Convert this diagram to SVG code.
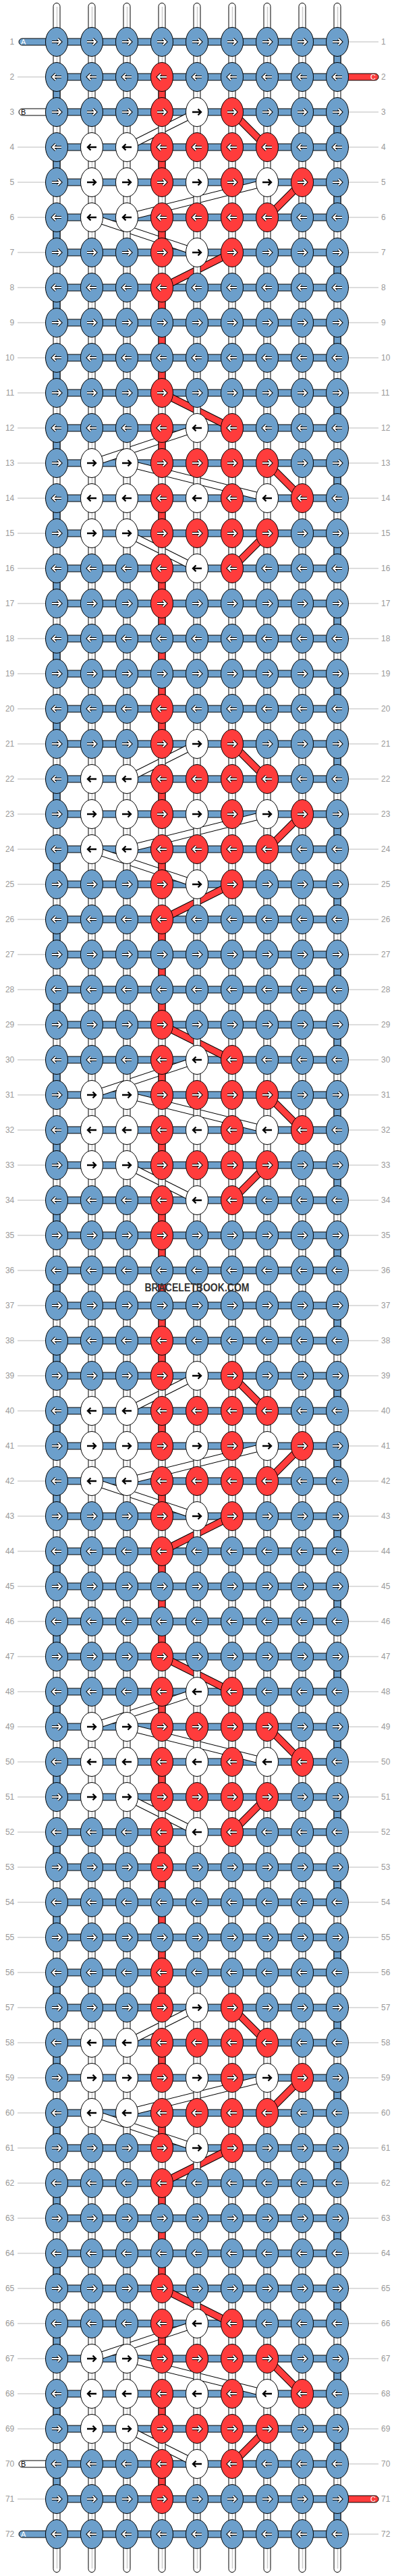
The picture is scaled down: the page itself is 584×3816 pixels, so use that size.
<svg xmlns="http://www.w3.org/2000/svg" xmlns:xlink="http://www.w3.org/1999/xlink" width="584" height="3816" viewBox="0 0 584 3816">
<style>
.b{fill:#6c9fcb}.r{fill:#ff3c3c}.w{fill:#fff}
ellipse,.o{stroke:#000;stroke-width:1}
.lbl{font-family:"Liberation Sans",Arial,sans-serif;font-size:12px;fill:#999}
.tl{font-family:"Liberation Sans",Arial,sans-serif;font-size:11px}
</style>
<defs>
<path id="ap" d="M-7,0H6M1.5,-4.5L6,0L1.5,4.5" fill="none"/>
<g id="aw"><use href="#ap" stroke="#000" stroke-width="4"/><use href="#ap" stroke="#fff" stroke-width="2"/></g>
<g id="ak"><use href="#ap" stroke="#000" stroke-width="2.4"/></g>
<g id="BR"><ellipse class="b" rx="16.5" ry="21.5"/><use href="#aw"/></g>
<g id="BL"><ellipse class="b" rx="16.5" ry="21.5"/><use href="#aw" transform="scale(-1,1)"/></g>
<g id="RR"><ellipse class="r" rx="16.5" ry="21.5"/><use href="#aw"/></g>
<g id="RL"><ellipse class="r" rx="16.5" ry="21.5"/><use href="#aw" transform="scale(-1,1)"/></g>
<g id="WR"><ellipse class="w" rx="16.5" ry="21.5"/><use href="#ak"/></g>
<g id="WL"><ellipse class="w" rx="16.5" ry="21.5"/><use href="#ak" transform="scale(-1,1)"/></g>
<path id="wbp" d="M292,166L188,218M396,270L188,322M136,322L292,374M292,634L136,686M188,686L396,738M188,790L292,842" fill="none"/>
<path id="rbp" d="M344,166L396,218M448,270L396,322M344,374L240,426M240,582L344,634M396,686L448,738M396,790L344,842" fill="none"/>
<path id="hb" fill="none" d="M84,62H500M84,114H500M84,166H500M84,218H500M84,270H500M84,322H500M84,374H500M84,426H500M84,478H500M84,530H500M84,582H500M84,634H500M84,686H500M84,738H500M84,790H500M84,842H500M84,894H500M84,946H500M84,998H500M84,1050H500M84,1102H500M84,1154H500M84,1206H500M84,1258H500M84,1310H500M84,1362H500M84,1414H500M84,1466H500M84,1518H500M84,1570H500M84,1622H500M84,1674H500M84,1726H500M84,1778H500M84,1830H500M84,1882H500M84,1934H500M84,1986H500M84,2038H500M84,2090H500M84,2142H500M84,2194H500M84,2246H500M84,2298H500M84,2350H500M84,2402H500M84,2454H500M84,2506H500M84,2558H500M84,2610H500M84,2662H500M84,2714H500M84,2766H500M84,2818H500M84,2870H500M84,2922H500M84,2974H500M84,3026H500M84,3078H500M84,3130H500M84,3182H500M84,3234H500M84,3286H500M84,3338H500M84,3390H500M84,3442H500M84,3494H500M84,3546H500M84,3598H500M84,3650H500M84,3702H500M84,3754H500"/>
<path id="rv" fill="none" d="M240,129V151M240,233V255M240,337V359M240,441V567M240,649V671M240,753V775M240,857V1087M240,1169V1191M240,1273V1295M240,1377V1503M240,1585V1607M240,1689V1711M240,1793V2023M240,2105V2127M240,2209V2231M240,2313V2439M240,2521V2543M240,2625V2647M240,2729V2959M240,3041V3063M240,3145V3167M240,3249V3375M240,3457V3479M240,3561V3583M240,3665V3687"/>
</defs>

<g id="labels">
<path stroke="#bbb" stroke-width="1" fill="none" d="M26,114H70M26,218H70M26,270H70M26,322H70M26,374H70M26,426H70M26,478H70M26,530H70M26,582H70M26,634H70M26,686H70M26,738H70M26,790H70M26,842H70M26,894H70M26,946H70M26,998H70M26,1050H70M26,1102H70M26,1154H70M26,1206H70M26,1258H70M26,1310H70M26,1362H70M26,1414H70M26,1466H70M26,1518H70M26,1570H70M26,1622H70M26,1674H70M26,1726H70M26,1778H70M26,1830H70M26,1882H70M26,1934H70M26,1986H70M26,2038H70M26,2090H70M26,2142H70M26,2194H70M26,2246H70M26,2298H70M26,2350H70M26,2402H70M26,2454H70M26,2506H70M26,2558H70M26,2610H70M26,2662H70M26,2714H70M26,2766H70M26,2818H70M26,2870H70M26,2922H70M26,2974H70M26,3026H70M26,3078H70M26,3130H70M26,3182H70M26,3234H70M26,3286H70M26,3338H70M26,3390H70M26,3442H70M26,3494H70M26,3546H70M26,3598H70M26,3702H70"/>
<path stroke="#bbb" stroke-width="1" fill="none" d="M514,62H561M514,166H561M514,218H561M514,270H561M514,322H561M514,374H561M514,426H561M514,478H561M514,530H561M514,582H561M514,634H561M514,686H561M514,738H561M514,790H561M514,842H561M514,894H561M514,946H561M514,998H561M514,1050H561M514,1102H561M514,1154H561M514,1206H561M514,1258H561M514,1310H561M514,1362H561M514,1414H561M514,1466H561M514,1518H561M514,1570H561M514,1622H561M514,1674H561M514,1726H561M514,1778H561M514,1830H561M514,1882H561M514,1934H561M514,1986H561M514,2038H561M514,2090H561M514,2142H561M514,2194H561M514,2246H561M514,2298H561M514,2350H561M514,2402H561M514,2454H561M514,2506H561M514,2558H561M514,2610H561M514,2662H561M514,2714H561M514,2766H561M514,2818H561M514,2870H561M514,2922H561M514,2974H561M514,3026H561M514,3078H561M514,3130H561M514,3182H561M514,3234H561M514,3286H561M514,3338H561M514,3390H561M514,3442H561M514,3494H561M514,3546H561M514,3598H561M514,3650H561M514,3754H561"/>
<g class="lbl" text-anchor="end">
<text x="21.3" y="66">1</text><text x="21.3" y="118">2</text><text x="21.3" y="170">3</text><text x="21.3" y="222">4</text><text x="21.3" y="274">5</text><text x="21.3" y="326">6</text><text x="21.3" y="378">7</text><text x="21.3" y="430">8</text><text x="21.3" y="482">9</text><text x="21.3" y="534">10</text><text x="21.3" y="586">11</text><text x="21.3" y="638">12</text><text x="21.3" y="690">13</text><text x="21.3" y="742">14</text><text x="21.3" y="794">15</text><text x="21.3" y="846">16</text><text x="21.3" y="898">17</text><text x="21.3" y="950">18</text><text x="21.3" y="1002">19</text><text x="21.3" y="1054">20</text><text x="21.3" y="1106">21</text><text x="21.3" y="1158">22</text><text x="21.3" y="1210">23</text><text x="21.3" y="1262">24</text><text x="21.3" y="1314">25</text><text x="21.3" y="1366">26</text><text x="21.3" y="1418">27</text><text x="21.3" y="1470">28</text><text x="21.3" y="1522">29</text><text x="21.3" y="1574">30</text><text x="21.3" y="1626">31</text><text x="21.3" y="1678">32</text><text x="21.3" y="1730">33</text><text x="21.3" y="1782">34</text><text x="21.3" y="1834">35</text><text x="21.3" y="1886">36</text><text x="21.3" y="1938">37</text><text x="21.3" y="1990">38</text><text x="21.3" y="2042">39</text><text x="21.3" y="2094">40</text><text x="21.3" y="2146">41</text><text x="21.3" y="2198">42</text><text x="21.3" y="2250">43</text><text x="21.3" y="2302">44</text><text x="21.3" y="2354">45</text><text x="21.3" y="2406">46</text><text x="21.3" y="2458">47</text><text x="21.3" y="2510">48</text><text x="21.3" y="2562">49</text><text x="21.3" y="2614">50</text><text x="21.3" y="2666">51</text><text x="21.3" y="2718">52</text><text x="21.3" y="2770">53</text><text x="21.3" y="2822">54</text><text x="21.3" y="2874">55</text><text x="21.3" y="2926">56</text><text x="21.3" y="2978">57</text><text x="21.3" y="3030">58</text><text x="21.3" y="3082">59</text><text x="21.3" y="3134">60</text><text x="21.3" y="3186">61</text><text x="21.3" y="3238">62</text><text x="21.3" y="3290">63</text><text x="21.3" y="3342">64</text><text x="21.3" y="3394">65</text><text x="21.3" y="3446">66</text><text x="21.3" y="3498">67</text><text x="21.3" y="3550">68</text><text x="21.3" y="3602">69</text><text x="21.3" y="3654">70</text><text x="21.3" y="3706">71</text><text x="21.3" y="3758">72</text>
</g>
<g class="lbl" text-anchor="start">
<text x="565" y="66">1</text><text x="565" y="118">2</text><text x="565" y="170">3</text><text x="565" y="222">4</text><text x="565" y="274">5</text><text x="565" y="326">6</text><text x="565" y="378">7</text><text x="565" y="430">8</text><text x="565" y="482">9</text><text x="565" y="534">10</text><text x="565" y="586">11</text><text x="565" y="638">12</text><text x="565" y="690">13</text><text x="565" y="742">14</text><text x="565" y="794">15</text><text x="565" y="846">16</text><text x="565" y="898">17</text><text x="565" y="950">18</text><text x="565" y="1002">19</text><text x="565" y="1054">20</text><text x="565" y="1106">21</text><text x="565" y="1158">22</text><text x="565" y="1210">23</text><text x="565" y="1262">24</text><text x="565" y="1314">25</text><text x="565" y="1366">26</text><text x="565" y="1418">27</text><text x="565" y="1470">28</text><text x="565" y="1522">29</text><text x="565" y="1574">30</text><text x="565" y="1626">31</text><text x="565" y="1678">32</text><text x="565" y="1730">33</text><text x="565" y="1782">34</text><text x="565" y="1834">35</text><text x="565" y="1886">36</text><text x="565" y="1938">37</text><text x="565" y="1990">38</text><text x="565" y="2042">39</text><text x="565" y="2094">40</text><text x="565" y="2146">41</text><text x="565" y="2198">42</text><text x="565" y="2250">43</text><text x="565" y="2302">44</text><text x="565" y="2354">45</text><text x="565" y="2406">46</text><text x="565" y="2458">47</text><text x="565" y="2510">48</text><text x="565" y="2562">49</text><text x="565" y="2614">50</text><text x="565" y="2666">51</text><text x="565" y="2718">52</text><text x="565" y="2770">53</text><text x="565" y="2822">54</text><text x="565" y="2874">55</text><text x="565" y="2926">56</text><text x="565" y="2978">57</text><text x="565" y="3030">58</text><text x="565" y="3082">59</text><text x="565" y="3134">60</text><text x="565" y="3186">61</text><text x="565" y="3238">62</text><text x="565" y="3290">63</text><text x="565" y="3342">64</text><text x="565" y="3394">65</text><text x="565" y="3446">66</text><text x="565" y="3498">67</text><text x="565" y="3550">68</text><text x="565" y="3602">69</text><text x="565" y="3654">70</text><text x="565" y="3706">71</text><text x="565" y="3758">72</text>
</g>
</g>

<g id="connectors">
<use href="#hb" stroke="#000" stroke-width="11"/>
<use href="#hb" stroke="#6c9fcb" stroke-width="9"/>
<g id="bands-white">
<use href="#wbp" stroke="#000" stroke-width="11"/><use href="#wbp" stroke="#fff" stroke-width="9"/>
<use href="#wbp" y="936" stroke="#000" stroke-width="11"/><use href="#wbp" y="936" stroke="#fff" stroke-width="9"/>
<use href="#wbp" y="1872" stroke="#000" stroke-width="11"/><use href="#wbp" y="1872" stroke="#fff" stroke-width="9"/>
<use href="#wbp" y="2808" stroke="#000" stroke-width="11"/><use href="#wbp" y="2808" stroke="#fff" stroke-width="9"/>
</g>
<g id="bands-red">
<use href="#rbp" stroke="#000" stroke-width="11"/><use href="#rbp" stroke="#ff3c3c" stroke-width="9"/>
<use href="#rbp" y="936" stroke="#000" stroke-width="11"/><use href="#rbp" y="936" stroke="#ff3c3c" stroke-width="9"/>
<use href="#rbp" y="1872" stroke="#000" stroke-width="11"/><use href="#rbp" y="1872" stroke="#ff3c3c" stroke-width="9"/>
<use href="#rbp" y="2808" stroke="#000" stroke-width="11"/><use href="#rbp" y="2808" stroke="#ff3c3c" stroke-width="9"/>
</g>
<g id="strings" class="w">
<rect class="o" x="79" y="4.5" width="10" height="3806" rx="5"/>
<rect class="o" x="131" y="4.5" width="10" height="3806" rx="5"/>
<rect class="o" x="183" y="4.5" width="10" height="3806" rx="5"/>
<rect class="o" x="235" y="4.5" width="10" height="3806" rx="5"/>
<rect class="o" x="287" y="4.5" width="10" height="3806" rx="5"/>
<rect class="o" x="339" y="4.5" width="10" height="3806" rx="5"/>
<rect class="o" x="391" y="4.5" width="10" height="3806" rx="5"/>
<rect class="o" x="443" y="4.5" width="10" height="3806" rx="5"/>
<rect class="o" x="495" y="4.5" width="10" height="3806" rx="5"/>
<path stroke="#ccc" stroke-width="1.5" fill="none" d="M84.5,10V3805M136.5,10V3805M188.5,10V3805M240.5,10V3805M292.5,10V3805M344.5,10V3805M396.5,10V3805M448.5,10V3805M500.5,10V3805"/>
</g>
<g id="turns">
<line x1="84" y1="129" x2="84" y2="3687" stroke="#000" stroke-width="11" stroke-dasharray="22 82"/>
<line x1="84" y1="129" x2="84" y2="3687" stroke="#6c9fcb" stroke-width="9" stroke-dasharray="22 82"/>
<line x1="500" y1="77" x2="500" y2="3739" stroke="#000" stroke-width="11" stroke-dasharray="22 82"/>
<line x1="500" y1="77" x2="500" y2="3739" stroke="#6c9fcb" stroke-width="9" stroke-dasharray="22 82"/>
<use href="#rv" stroke="#000" stroke-width="11"/>
<use href="#rv" stroke="#ff3c3c" stroke-width="9"/>
</g>
<g id="tails">
<rect class="b o" x="28" y="57" width="60" height="10" rx="5"/>
<rect class="w o" x="28" y="161" width="60" height="10" rx="5"/>
<rect class="w o" x="28" y="3645" width="60" height="10" rx="5"/>
<rect class="b o" x="28" y="3749" width="60" height="10" rx="5"/>
<rect class="r o" x="496" y="109" width="65" height="10" rx="5"/>
<rect class="r o" x="496" y="3697" width="65" height="10" rx="5"/>
<text class="tl" x="31" y="66" fill="#fff">A</text>
<text class="tl" x="31" y="170" fill="#000">B</text>
<text class="tl" x="31" y="3654" fill="#000">B</text>
<text class="tl" x="31" y="3758" fill="#fff">A</text>
<text class="tl" x="557" y="118" fill="#fff" text-anchor="end">C</text>
<text class="tl" x="557" y="3706" fill="#fff" text-anchor="end">C</text>
</g>
</g>

<g id="nodes">
<g transform="translate(0,62)"><g id="n1-1"><use href="#BR" x="84"/></g><g id="n1-2"><use href="#BR" x="136"/></g><g id="n1-3"><use href="#BR" x="188"/></g><g id="n1-4"><use href="#BR" x="240"/></g><g id="n1-5"><use href="#BR" x="292"/></g><g id="n1-6"><use href="#BR" x="344"/></g><g id="n1-7"><use href="#BR" x="396"/></g><g id="n1-8"><use href="#BR" x="448"/></g><g id="n1-9"><use href="#BR" x="500"/></g></g>
<g transform="translate(0,114)"><g id="n2-1"><use href="#BL" x="84"/></g><g id="n2-2"><use href="#BL" x="136"/></g><g id="n2-3"><use href="#BL" x="188"/></g><g id="n2-4"><use href="#RL" x="240"/></g><g id="n2-5"><use href="#BL" x="292"/></g><g id="n2-6"><use href="#BL" x="344"/></g><g id="n2-7"><use href="#BL" x="396"/></g><g id="n2-8"><use href="#BL" x="448"/></g><g id="n2-9"><use href="#BL" x="500"/></g></g>
<g transform="translate(0,166)"><g id="n3-1"><use href="#BR" x="84"/></g><g id="n3-2"><use href="#BR" x="136"/></g><g id="n3-3"><use href="#BR" x="188"/></g><g id="n3-4"><use href="#RR" x="240"/></g><g id="n3-5"><use href="#WR" x="292"/></g><g id="n3-6"><use href="#RR" x="344"/></g><g id="n3-7"><use href="#BR" x="396"/></g><g id="n3-8"><use href="#BR" x="448"/></g><g id="n3-9"><use href="#BR" x="500"/></g></g>
<g transform="translate(0,218)"><g id="n4-1"><use href="#BL" x="84"/></g><g id="n4-2"><use href="#WL" x="136"/></g><g id="n4-3"><use href="#WL" x="188"/></g><g id="n4-4"><use href="#RL" x="240"/></g><g id="n4-5"><use href="#RL" x="292"/></g><g id="n4-6"><use href="#RL" x="344"/></g><g id="n4-7"><use href="#RL" x="396"/></g><g id="n4-8"><use href="#BL" x="448"/></g><g id="n4-9"><use href="#BL" x="500"/></g></g>
<g transform="translate(0,270)"><g id="n5-1"><use href="#BR" x="84"/></g><g id="n5-2"><use href="#WR" x="136"/></g><g id="n5-3"><use href="#WR" x="188"/></g><g id="n5-4"><use href="#RR" x="240"/></g><g id="n5-5"><use href="#WR" x="292"/></g><g id="n5-6"><use href="#RR" x="344"/></g><g id="n5-7"><use href="#WR" x="396"/></g><g id="n5-8"><use href="#RR" x="448"/></g><g id="n5-9"><use href="#BR" x="500"/></g></g>
<g transform="translate(0,322)"><g id="n6-1"><use href="#BL" x="84"/></g><g id="n6-2"><use href="#WL" x="136"/></g><g id="n6-3"><use href="#WL" x="188"/></g><g id="n6-4"><use href="#RL" x="240"/></g><g id="n6-5"><use href="#RL" x="292"/></g><g id="n6-6"><use href="#RL" x="344"/></g><g id="n6-7"><use href="#RL" x="396"/></g><g id="n6-8"><use href="#BL" x="448"/></g><g id="n6-9"><use href="#BL" x="500"/></g></g>
<g transform="translate(0,374)"><g id="n7-1"><use href="#BR" x="84"/></g><g id="n7-2"><use href="#BR" x="136"/></g><g id="n7-3"><use href="#BR" x="188"/></g><g id="n7-4"><use href="#RR" x="240"/></g><g id="n7-5"><use href="#WR" x="292"/></g><g id="n7-6"><use href="#RR" x="344"/></g><g id="n7-7"><use href="#BR" x="396"/></g><g id="n7-8"><use href="#BR" x="448"/></g><g id="n7-9"><use href="#BR" x="500"/></g></g>
<g transform="translate(0,426)"><g id="n8-1"><use href="#BL" x="84"/></g><g id="n8-2"><use href="#BL" x="136"/></g><g id="n8-3"><use href="#BL" x="188"/></g><g id="n8-4"><use href="#RL" x="240"/></g><g id="n8-5"><use href="#BL" x="292"/></g><g id="n8-6"><use href="#BL" x="344"/></g><g id="n8-7"><use href="#BL" x="396"/></g><g id="n8-8"><use href="#BL" x="448"/></g><g id="n8-9"><use href="#BL" x="500"/></g></g>
<g transform="translate(0,478)"><g id="n9-1"><use href="#BR" x="84"/></g><g id="n9-2"><use href="#BR" x="136"/></g><g id="n9-3"><use href="#BR" x="188"/></g><g id="n9-4"><use href="#BR" x="240"/></g><g id="n9-5"><use href="#BR" x="292"/></g><g id="n9-6"><use href="#BR" x="344"/></g><g id="n9-7"><use href="#BR" x="396"/></g><g id="n9-8"><use href="#BR" x="448"/></g><g id="n9-9"><use href="#BR" x="500"/></g></g>
<g transform="translate(0,530)"><g id="n10-1"><use href="#BL" x="84"/></g><g id="n10-2"><use href="#BL" x="136"/></g><g id="n10-3"><use href="#BL" x="188"/></g><g id="n10-4"><use href="#BL" x="240"/></g><g id="n10-5"><use href="#BL" x="292"/></g><g id="n10-6"><use href="#BL" x="344"/></g><g id="n10-7"><use href="#BL" x="396"/></g><g id="n10-8"><use href="#BL" x="448"/></g><g id="n10-9"><use href="#BL" x="500"/></g></g>
<g transform="translate(0,582)"><g id="n11-1"><use href="#BR" x="84"/></g><g id="n11-2"><use href="#BR" x="136"/></g><g id="n11-3"><use href="#BR" x="188"/></g><g id="n11-4"><use href="#RR" x="240"/></g><g id="n11-5"><use href="#BR" x="292"/></g><g id="n11-6"><use href="#BR" x="344"/></g><g id="n11-7"><use href="#BR" x="396"/></g><g id="n11-8"><use href="#BR" x="448"/></g><g id="n11-9"><use href="#BR" x="500"/></g></g>
<g transform="translate(0,634)"><g id="n12-1"><use href="#BL" x="84"/></g><g id="n12-2"><use href="#BL" x="136"/></g><g id="n12-3"><use href="#BL" x="188"/></g><g id="n12-4"><use href="#RL" x="240"/></g><g id="n12-5"><use href="#WL" x="292"/></g><g id="n12-6"><use href="#RL" x="344"/></g><g id="n12-7"><use href="#BL" x="396"/></g><g id="n12-8"><use href="#BL" x="448"/></g><g id="n12-9"><use href="#BL" x="500"/></g></g>
<g transform="translate(0,686)"><g id="n13-1"><use href="#BR" x="84"/></g><g id="n13-2"><use href="#WR" x="136"/></g><g id="n13-3"><use href="#WR" x="188"/></g><g id="n13-4"><use href="#RR" x="240"/></g><g id="n13-5"><use href="#RR" x="292"/></g><g id="n13-6"><use href="#RR" x="344"/></g><g id="n13-7"><use href="#RR" x="396"/></g><g id="n13-8"><use href="#BR" x="448"/></g><g id="n13-9"><use href="#BR" x="500"/></g></g>
<g transform="translate(0,738)"><g id="n14-1"><use href="#BL" x="84"/></g><g id="n14-2"><use href="#WL" x="136"/></g><g id="n14-3"><use href="#WL" x="188"/></g><g id="n14-4"><use href="#RL" x="240"/></g><g id="n14-5"><use href="#WL" x="292"/></g><g id="n14-6"><use href="#RL" x="344"/></g><g id="n14-7"><use href="#WL" x="396"/></g><g id="n14-8"><use href="#RL" x="448"/></g><g id="n14-9"><use href="#BL" x="500"/></g></g>
<g transform="translate(0,790)"><g id="n15-1"><use href="#BR" x="84"/></g><g id="n15-2"><use href="#WR" x="136"/></g><g id="n15-3"><use href="#WR" x="188"/></g><g id="n15-4"><use href="#RR" x="240"/></g><g id="n15-5"><use href="#RR" x="292"/></g><g id="n15-6"><use href="#RR" x="344"/></g><g id="n15-7"><use href="#RR" x="396"/></g><g id="n15-8"><use href="#BR" x="448"/></g><g id="n15-9"><use href="#BR" x="500"/></g></g>
<g transform="translate(0,842)"><g id="n16-1"><use href="#BL" x="84"/></g><g id="n16-2"><use href="#BL" x="136"/></g><g id="n16-3"><use href="#BL" x="188"/></g><g id="n16-4"><use href="#RL" x="240"/></g><g id="n16-5"><use href="#WL" x="292"/></g><g id="n16-6"><use href="#RL" x="344"/></g><g id="n16-7"><use href="#BL" x="396"/></g><g id="n16-8"><use href="#BL" x="448"/></g><g id="n16-9"><use href="#BL" x="500"/></g></g>
<g transform="translate(0,894)"><g id="n17-1"><use href="#BR" x="84"/></g><g id="n17-2"><use href="#BR" x="136"/></g><g id="n17-3"><use href="#BR" x="188"/></g><g id="n17-4"><use href="#RR" x="240"/></g><g id="n17-5"><use href="#BR" x="292"/></g><g id="n17-6"><use href="#BR" x="344"/></g><g id="n17-7"><use href="#BR" x="396"/></g><g id="n17-8"><use href="#BR" x="448"/></g><g id="n17-9"><use href="#BR" x="500"/></g></g>
<g transform="translate(0,946)"><g id="n18-1"><use href="#BL" x="84"/></g><g id="n18-2"><use href="#BL" x="136"/></g><g id="n18-3"><use href="#BL" x="188"/></g><g id="n18-4"><use href="#BL" x="240"/></g><g id="n18-5"><use href="#BL" x="292"/></g><g id="n18-6"><use href="#BL" x="344"/></g><g id="n18-7"><use href="#BL" x="396"/></g><g id="n18-8"><use href="#BL" x="448"/></g><g id="n18-9"><use href="#BL" x="500"/></g></g>

<g transform="translate(0,998)"><g id="n19-1"><use href="#BR" x="84"/></g><g id="n19-2"><use href="#BR" x="136"/></g><g id="n19-3"><use href="#BR" x="188"/></g><g id="n19-4"><use href="#BR" x="240"/></g><g id="n19-5"><use href="#BR" x="292"/></g><g id="n19-6"><use href="#BR" x="344"/></g><g id="n19-7"><use href="#BR" x="396"/></g><g id="n19-8"><use href="#BR" x="448"/></g><g id="n19-9"><use href="#BR" x="500"/></g></g>
<g transform="translate(0,1050)"><g id="n20-1"><use href="#BL" x="84"/></g><g id="n20-2"><use href="#BL" x="136"/></g><g id="n20-3"><use href="#BL" x="188"/></g><g id="n20-4"><use href="#RL" x="240"/></g><g id="n20-5"><use href="#BL" x="292"/></g><g id="n20-6"><use href="#BL" x="344"/></g><g id="n20-7"><use href="#BL" x="396"/></g><g id="n20-8"><use href="#BL" x="448"/></g><g id="n20-9"><use href="#BL" x="500"/></g></g>
<g transform="translate(0,1102)"><g id="n21-1"><use href="#BR" x="84"/></g><g id="n21-2"><use href="#BR" x="136"/></g><g id="n21-3"><use href="#BR" x="188"/></g><g id="n21-4"><use href="#RR" x="240"/></g><g id="n21-5"><use href="#WR" x="292"/></g><g id="n21-6"><use href="#RR" x="344"/></g><g id="n21-7"><use href="#BR" x="396"/></g><g id="n21-8"><use href="#BR" x="448"/></g><g id="n21-9"><use href="#BR" x="500"/></g></g>
<g transform="translate(0,1154)"><g id="n22-1"><use href="#BL" x="84"/></g><g id="n22-2"><use href="#WL" x="136"/></g><g id="n22-3"><use href="#WL" x="188"/></g><g id="n22-4"><use href="#RL" x="240"/></g><g id="n22-5"><use href="#RL" x="292"/></g><g id="n22-6"><use href="#RL" x="344"/></g><g id="n22-7"><use href="#RL" x="396"/></g><g id="n22-8"><use href="#BL" x="448"/></g><g id="n22-9"><use href="#BL" x="500"/></g></g>
<g transform="translate(0,1206)"><g id="n23-1"><use href="#BR" x="84"/></g><g id="n23-2"><use href="#WR" x="136"/></g><g id="n23-3"><use href="#WR" x="188"/></g><g id="n23-4"><use href="#RR" x="240"/></g><g id="n23-5"><use href="#WR" x="292"/></g><g id="n23-6"><use href="#RR" x="344"/></g><g id="n23-7"><use href="#WR" x="396"/></g><g id="n23-8"><use href="#RR" x="448"/></g><g id="n23-9"><use href="#BR" x="500"/></g></g>
<g transform="translate(0,1258)"><g id="n24-1"><use href="#BL" x="84"/></g><g id="n24-2"><use href="#WL" x="136"/></g><g id="n24-3"><use href="#WL" x="188"/></g><g id="n24-4"><use href="#RL" x="240"/></g><g id="n24-5"><use href="#RL" x="292"/></g><g id="n24-6"><use href="#RL" x="344"/></g><g id="n24-7"><use href="#RL" x="396"/></g><g id="n24-8"><use href="#BL" x="448"/></g><g id="n24-9"><use href="#BL" x="500"/></g></g>
<g transform="translate(0,1310)"><g id="n25-1"><use href="#BR" x="84"/></g><g id="n25-2"><use href="#BR" x="136"/></g><g id="n25-3"><use href="#BR" x="188"/></g><g id="n25-4"><use href="#RR" x="240"/></g><g id="n25-5"><use href="#WR" x="292"/></g><g id="n25-6"><use href="#RR" x="344"/></g><g id="n25-7"><use href="#BR" x="396"/></g><g id="n25-8"><use href="#BR" x="448"/></g><g id="n25-9"><use href="#BR" x="500"/></g></g>
<g transform="translate(0,1362)"><g id="n26-1"><use href="#BL" x="84"/></g><g id="n26-2"><use href="#BL" x="136"/></g><g id="n26-3"><use href="#BL" x="188"/></g><g id="n26-4"><use href="#RL" x="240"/></g><g id="n26-5"><use href="#BL" x="292"/></g><g id="n26-6"><use href="#BL" x="344"/></g><g id="n26-7"><use href="#BL" x="396"/></g><g id="n26-8"><use href="#BL" x="448"/></g><g id="n26-9"><use href="#BL" x="500"/></g></g>
<g transform="translate(0,1414)"><g id="n27-1"><use href="#BR" x="84"/></g><g id="n27-2"><use href="#BR" x="136"/></g><g id="n27-3"><use href="#BR" x="188"/></g><g id="n27-4"><use href="#BR" x="240"/></g><g id="n27-5"><use href="#BR" x="292"/></g><g id="n27-6"><use href="#BR" x="344"/></g><g id="n27-7"><use href="#BR" x="396"/></g><g id="n27-8"><use href="#BR" x="448"/></g><g id="n27-9"><use href="#BR" x="500"/></g></g>
<g transform="translate(0,1466)"><g id="n28-1"><use href="#BL" x="84"/></g><g id="n28-2"><use href="#BL" x="136"/></g><g id="n28-3"><use href="#BL" x="188"/></g><g id="n28-4"><use href="#BL" x="240"/></g><g id="n28-5"><use href="#BL" x="292"/></g><g id="n28-6"><use href="#BL" x="344"/></g><g id="n28-7"><use href="#BL" x="396"/></g><g id="n28-8"><use href="#BL" x="448"/></g><g id="n28-9"><use href="#BL" x="500"/></g></g>
<g transform="translate(0,1518)"><g id="n29-1"><use href="#BR" x="84"/></g><g id="n29-2"><use href="#BR" x="136"/></g><g id="n29-3"><use href="#BR" x="188"/></g><g id="n29-4"><use href="#RR" x="240"/></g><g id="n29-5"><use href="#BR" x="292"/></g><g id="n29-6"><use href="#BR" x="344"/></g><g id="n29-7"><use href="#BR" x="396"/></g><g id="n29-8"><use href="#BR" x="448"/></g><g id="n29-9"><use href="#BR" x="500"/></g></g>
<g transform="translate(0,1570)"><g id="n30-1"><use href="#BL" x="84"/></g><g id="n30-2"><use href="#BL" x="136"/></g><g id="n30-3"><use href="#BL" x="188"/></g><g id="n30-4"><use href="#RL" x="240"/></g><g id="n30-5"><use href="#WL" x="292"/></g><g id="n30-6"><use href="#RL" x="344"/></g><g id="n30-7"><use href="#BL" x="396"/></g><g id="n30-8"><use href="#BL" x="448"/></g><g id="n30-9"><use href="#BL" x="500"/></g></g>
<g transform="translate(0,1622)"><g id="n31-1"><use href="#BR" x="84"/></g><g id="n31-2"><use href="#WR" x="136"/></g><g id="n31-3"><use href="#WR" x="188"/></g><g id="n31-4"><use href="#RR" x="240"/></g><g id="n31-5"><use href="#RR" x="292"/></g><g id="n31-6"><use href="#RR" x="344"/></g><g id="n31-7"><use href="#RR" x="396"/></g><g id="n31-8"><use href="#BR" x="448"/></g><g id="n31-9"><use href="#BR" x="500"/></g></g>
<g transform="translate(0,1674)"><g id="n32-1"><use href="#BL" x="84"/></g><g id="n32-2"><use href="#WL" x="136"/></g><g id="n32-3"><use href="#WL" x="188"/></g><g id="n32-4"><use href="#RL" x="240"/></g><g id="n32-5"><use href="#WL" x="292"/></g><g id="n32-6"><use href="#RL" x="344"/></g><g id="n32-7"><use href="#WL" x="396"/></g><g id="n32-8"><use href="#RL" x="448"/></g><g id="n32-9"><use href="#BL" x="500"/></g></g>
<g transform="translate(0,1726)"><g id="n33-1"><use href="#BR" x="84"/></g><g id="n33-2"><use href="#WR" x="136"/></g><g id="n33-3"><use href="#WR" x="188"/></g><g id="n33-4"><use href="#RR" x="240"/></g><g id="n33-5"><use href="#RR" x="292"/></g><g id="n33-6"><use href="#RR" x="344"/></g><g id="n33-7"><use href="#RR" x="396"/></g><g id="n33-8"><use href="#BR" x="448"/></g><g id="n33-9"><use href="#BR" x="500"/></g></g>
<g transform="translate(0,1778)"><g id="n34-1"><use href="#BL" x="84"/></g><g id="n34-2"><use href="#BL" x="136"/></g><g id="n34-3"><use href="#BL" x="188"/></g><g id="n34-4"><use href="#RL" x="240"/></g><g id="n34-5"><use href="#WL" x="292"/></g><g id="n34-6"><use href="#RL" x="344"/></g><g id="n34-7"><use href="#BL" x="396"/></g><g id="n34-8"><use href="#BL" x="448"/></g><g id="n34-9"><use href="#BL" x="500"/></g></g>
<g transform="translate(0,1830)"><g id="n35-1"><use href="#BR" x="84"/></g><g id="n35-2"><use href="#BR" x="136"/></g><g id="n35-3"><use href="#BR" x="188"/></g><g id="n35-4"><use href="#RR" x="240"/></g><g id="n35-5"><use href="#BR" x="292"/></g><g id="n35-6"><use href="#BR" x="344"/></g><g id="n35-7"><use href="#BR" x="396"/></g><g id="n35-8"><use href="#BR" x="448"/></g><g id="n35-9"><use href="#BR" x="500"/></g></g>
<g transform="translate(0,1882)"><g id="n36-1"><use href="#BL" x="84"/></g><g id="n36-2"><use href="#BL" x="136"/></g><g id="n36-3"><use href="#BL" x="188"/></g><g id="n36-4"><use href="#BL" x="240"/></g><g id="n36-5"><use href="#BL" x="292"/></g><g id="n36-6"><use href="#BL" x="344"/></g><g id="n36-7"><use href="#BL" x="396"/></g><g id="n36-8"><use href="#BL" x="448"/></g><g id="n36-9"><use href="#BL" x="500"/></g></g>

<g transform="translate(0,1934)"><g id="n37-1"><use href="#BR" x="84"/></g><g id="n37-2"><use href="#BR" x="136"/></g><g id="n37-3"><use href="#BR" x="188"/></g><g id="n37-4"><use href="#BR" x="240"/></g><g id="n37-5"><use href="#BR" x="292"/></g><g id="n37-6"><use href="#BR" x="344"/></g><g id="n37-7"><use href="#BR" x="396"/></g><g id="n37-8"><use href="#BR" x="448"/></g><g id="n37-9"><use href="#BR" x="500"/></g></g>
<g transform="translate(0,1986)"><g id="n38-1"><use href="#BL" x="84"/></g><g id="n38-2"><use href="#BL" x="136"/></g><g id="n38-3"><use href="#BL" x="188"/></g><g id="n38-4"><use href="#RL" x="240"/></g><g id="n38-5"><use href="#BL" x="292"/></g><g id="n38-6"><use href="#BL" x="344"/></g><g id="n38-7"><use href="#BL" x="396"/></g><g id="n38-8"><use href="#BL" x="448"/></g><g id="n38-9"><use href="#BL" x="500"/></g></g>
<g transform="translate(0,2038)"><g id="n39-1"><use href="#BR" x="84"/></g><g id="n39-2"><use href="#BR" x="136"/></g><g id="n39-3"><use href="#BR" x="188"/></g><g id="n39-4"><use href="#RR" x="240"/></g><g id="n39-5"><use href="#WR" x="292"/></g><g id="n39-6"><use href="#RR" x="344"/></g><g id="n39-7"><use href="#BR" x="396"/></g><g id="n39-8"><use href="#BR" x="448"/></g><g id="n39-9"><use href="#BR" x="500"/></g></g>
<g transform="translate(0,2090)"><g id="n40-1"><use href="#BL" x="84"/></g><g id="n40-2"><use href="#WL" x="136"/></g><g id="n40-3"><use href="#WL" x="188"/></g><g id="n40-4"><use href="#RL" x="240"/></g><g id="n40-5"><use href="#RL" x="292"/></g><g id="n40-6"><use href="#RL" x="344"/></g><g id="n40-7"><use href="#RL" x="396"/></g><g id="n40-8"><use href="#BL" x="448"/></g><g id="n40-9"><use href="#BL" x="500"/></g></g>
<g transform="translate(0,2142)"><g id="n41-1"><use href="#BR" x="84"/></g><g id="n41-2"><use href="#WR" x="136"/></g><g id="n41-3"><use href="#WR" x="188"/></g><g id="n41-4"><use href="#RR" x="240"/></g><g id="n41-5"><use href="#WR" x="292"/></g><g id="n41-6"><use href="#RR" x="344"/></g><g id="n41-7"><use href="#WR" x="396"/></g><g id="n41-8"><use href="#RR" x="448"/></g><g id="n41-9"><use href="#BR" x="500"/></g></g>
<g transform="translate(0,2194)"><g id="n42-1"><use href="#BL" x="84"/></g><g id="n42-2"><use href="#WL" x="136"/></g><g id="n42-3"><use href="#WL" x="188"/></g><g id="n42-4"><use href="#RL" x="240"/></g><g id="n42-5"><use href="#RL" x="292"/></g><g id="n42-6"><use href="#RL" x="344"/></g><g id="n42-7"><use href="#RL" x="396"/></g><g id="n42-8"><use href="#BL" x="448"/></g><g id="n42-9"><use href="#BL" x="500"/></g></g>
<g transform="translate(0,2246)"><g id="n43-1"><use href="#BR" x="84"/></g><g id="n43-2"><use href="#BR" x="136"/></g><g id="n43-3"><use href="#BR" x="188"/></g><g id="n43-4"><use href="#RR" x="240"/></g><g id="n43-5"><use href="#WR" x="292"/></g><g id="n43-6"><use href="#RR" x="344"/></g><g id="n43-7"><use href="#BR" x="396"/></g><g id="n43-8"><use href="#BR" x="448"/></g><g id="n43-9"><use href="#BR" x="500"/></g></g>
<g transform="translate(0,2298)"><g id="n44-1"><use href="#BL" x="84"/></g><g id="n44-2"><use href="#BL" x="136"/></g><g id="n44-3"><use href="#BL" x="188"/></g><g id="n44-4"><use href="#RL" x="240"/></g><g id="n44-5"><use href="#BL" x="292"/></g><g id="n44-6"><use href="#BL" x="344"/></g><g id="n44-7"><use href="#BL" x="396"/></g><g id="n44-8"><use href="#BL" x="448"/></g><g id="n44-9"><use href="#BL" x="500"/></g></g>
<g transform="translate(0,2350)"><g id="n45-1"><use href="#BR" x="84"/></g><g id="n45-2"><use href="#BR" x="136"/></g><g id="n45-3"><use href="#BR" x="188"/></g><g id="n45-4"><use href="#BR" x="240"/></g><g id="n45-5"><use href="#BR" x="292"/></g><g id="n45-6"><use href="#BR" x="344"/></g><g id="n45-7"><use href="#BR" x="396"/></g><g id="n45-8"><use href="#BR" x="448"/></g><g id="n45-9"><use href="#BR" x="500"/></g></g>
<g transform="translate(0,2402)"><g id="n46-1"><use href="#BL" x="84"/></g><g id="n46-2"><use href="#BL" x="136"/></g><g id="n46-3"><use href="#BL" x="188"/></g><g id="n46-4"><use href="#BL" x="240"/></g><g id="n46-5"><use href="#BL" x="292"/></g><g id="n46-6"><use href="#BL" x="344"/></g><g id="n46-7"><use href="#BL" x="396"/></g><g id="n46-8"><use href="#BL" x="448"/></g><g id="n46-9"><use href="#BL" x="500"/></g></g>
<g transform="translate(0,2454)"><g id="n47-1"><use href="#BR" x="84"/></g><g id="n47-2"><use href="#BR" x="136"/></g><g id="n47-3"><use href="#BR" x="188"/></g><g id="n47-4"><use href="#RR" x="240"/></g><g id="n47-5"><use href="#BR" x="292"/></g><g id="n47-6"><use href="#BR" x="344"/></g><g id="n47-7"><use href="#BR" x="396"/></g><g id="n47-8"><use href="#BR" x="448"/></g><g id="n47-9"><use href="#BR" x="500"/></g></g>
<g transform="translate(0,2506)"><g id="n48-1"><use href="#BL" x="84"/></g><g id="n48-2"><use href="#BL" x="136"/></g><g id="n48-3"><use href="#BL" x="188"/></g><g id="n48-4"><use href="#RL" x="240"/></g><g id="n48-5"><use href="#WL" x="292"/></g><g id="n48-6"><use href="#RL" x="344"/></g><g id="n48-7"><use href="#BL" x="396"/></g><g id="n48-8"><use href="#BL" x="448"/></g><g id="n48-9"><use href="#BL" x="500"/></g></g>
<g transform="translate(0,2558)"><g id="n49-1"><use href="#BR" x="84"/></g><g id="n49-2"><use href="#WR" x="136"/></g><g id="n49-3"><use href="#WR" x="188"/></g><g id="n49-4"><use href="#RR" x="240"/></g><g id="n49-5"><use href="#RR" x="292"/></g><g id="n49-6"><use href="#RR" x="344"/></g><g id="n49-7"><use href="#RR" x="396"/></g><g id="n49-8"><use href="#BR" x="448"/></g><g id="n49-9"><use href="#BR" x="500"/></g></g>
<g transform="translate(0,2610)"><g id="n50-1"><use href="#BL" x="84"/></g><g id="n50-2"><use href="#WL" x="136"/></g><g id="n50-3"><use href="#WL" x="188"/></g><g id="n50-4"><use href="#RL" x="240"/></g><g id="n50-5"><use href="#WL" x="292"/></g><g id="n50-6"><use href="#RL" x="344"/></g><g id="n50-7"><use href="#WL" x="396"/></g><g id="n50-8"><use href="#RL" x="448"/></g><g id="n50-9"><use href="#BL" x="500"/></g></g>
<g transform="translate(0,2662)"><g id="n51-1"><use href="#BR" x="84"/></g><g id="n51-2"><use href="#WR" x="136"/></g><g id="n51-3"><use href="#WR" x="188"/></g><g id="n51-4"><use href="#RR" x="240"/></g><g id="n51-5"><use href="#RR" x="292"/></g><g id="n51-6"><use href="#RR" x="344"/></g><g id="n51-7"><use href="#RR" x="396"/></g><g id="n51-8"><use href="#BR" x="448"/></g><g id="n51-9"><use href="#BR" x="500"/></g></g>
<g transform="translate(0,2714)"><g id="n52-1"><use href="#BL" x="84"/></g><g id="n52-2"><use href="#BL" x="136"/></g><g id="n52-3"><use href="#BL" x="188"/></g><g id="n52-4"><use href="#RL" x="240"/></g><g id="n52-5"><use href="#WL" x="292"/></g><g id="n52-6"><use href="#RL" x="344"/></g><g id="n52-7"><use href="#BL" x="396"/></g><g id="n52-8"><use href="#BL" x="448"/></g><g id="n52-9"><use href="#BL" x="500"/></g></g>
<g transform="translate(0,2766)"><g id="n53-1"><use href="#BR" x="84"/></g><g id="n53-2"><use href="#BR" x="136"/></g><g id="n53-3"><use href="#BR" x="188"/></g><g id="n53-4"><use href="#RR" x="240"/></g><g id="n53-5"><use href="#BR" x="292"/></g><g id="n53-6"><use href="#BR" x="344"/></g><g id="n53-7"><use href="#BR" x="396"/></g><g id="n53-8"><use href="#BR" x="448"/></g><g id="n53-9"><use href="#BR" x="500"/></g></g>
<g transform="translate(0,2818)"><g id="n54-1"><use href="#BL" x="84"/></g><g id="n54-2"><use href="#BL" x="136"/></g><g id="n54-3"><use href="#BL" x="188"/></g><g id="n54-4"><use href="#BL" x="240"/></g><g id="n54-5"><use href="#BL" x="292"/></g><g id="n54-6"><use href="#BL" x="344"/></g><g id="n54-7"><use href="#BL" x="396"/></g><g id="n54-8"><use href="#BL" x="448"/></g><g id="n54-9"><use href="#BL" x="500"/></g></g>

<g transform="translate(0,2870)"><g id="n55-1"><use href="#BR" x="84"/></g><g id="n55-2"><use href="#BR" x="136"/></g><g id="n55-3"><use href="#BR" x="188"/></g><g id="n55-4"><use href="#BR" x="240"/></g><g id="n55-5"><use href="#BR" x="292"/></g><g id="n55-6"><use href="#BR" x="344"/></g><g id="n55-7"><use href="#BR" x="396"/></g><g id="n55-8"><use href="#BR" x="448"/></g><g id="n55-9"><use href="#BR" x="500"/></g></g>
<g transform="translate(0,2922)"><g id="n56-1"><use href="#BL" x="84"/></g><g id="n56-2"><use href="#BL" x="136"/></g><g id="n56-3"><use href="#BL" x="188"/></g><g id="n56-4"><use href="#RL" x="240"/></g><g id="n56-5"><use href="#BL" x="292"/></g><g id="n56-6"><use href="#BL" x="344"/></g><g id="n56-7"><use href="#BL" x="396"/></g><g id="n56-8"><use href="#BL" x="448"/></g><g id="n56-9"><use href="#BL" x="500"/></g></g>
<g transform="translate(0,2974)"><g id="n57-1"><use href="#BR" x="84"/></g><g id="n57-2"><use href="#BR" x="136"/></g><g id="n57-3"><use href="#BR" x="188"/></g><g id="n57-4"><use href="#RR" x="240"/></g><g id="n57-5"><use href="#WR" x="292"/></g><g id="n57-6"><use href="#RR" x="344"/></g><g id="n57-7"><use href="#BR" x="396"/></g><g id="n57-8"><use href="#BR" x="448"/></g><g id="n57-9"><use href="#BR" x="500"/></g></g>
<g transform="translate(0,3026)"><g id="n58-1"><use href="#BL" x="84"/></g><g id="n58-2"><use href="#WL" x="136"/></g><g id="n58-3"><use href="#WL" x="188"/></g><g id="n58-4"><use href="#RL" x="240"/></g><g id="n58-5"><use href="#RL" x="292"/></g><g id="n58-6"><use href="#RL" x="344"/></g><g id="n58-7"><use href="#RL" x="396"/></g><g id="n58-8"><use href="#BL" x="448"/></g><g id="n58-9"><use href="#BL" x="500"/></g></g>
<g transform="translate(0,3078)"><g id="n59-1"><use href="#BR" x="84"/></g><g id="n59-2"><use href="#WR" x="136"/></g><g id="n59-3"><use href="#WR" x="188"/></g><g id="n59-4"><use href="#RR" x="240"/></g><g id="n59-5"><use href="#WR" x="292"/></g><g id="n59-6"><use href="#RR" x="344"/></g><g id="n59-7"><use href="#WR" x="396"/></g><g id="n59-8"><use href="#RR" x="448"/></g><g id="n59-9"><use href="#BR" x="500"/></g></g>
<g transform="translate(0,3130)"><g id="n60-1"><use href="#BL" x="84"/></g><g id="n60-2"><use href="#WL" x="136"/></g><g id="n60-3"><use href="#WL" x="188"/></g><g id="n60-4"><use href="#RL" x="240"/></g><g id="n60-5"><use href="#RL" x="292"/></g><g id="n60-6"><use href="#RL" x="344"/></g><g id="n60-7"><use href="#RL" x="396"/></g><g id="n60-8"><use href="#BL" x="448"/></g><g id="n60-9"><use href="#BL" x="500"/></g></g>
<g transform="translate(0,3182)"><g id="n61-1"><use href="#BR" x="84"/></g><g id="n61-2"><use href="#BR" x="136"/></g><g id="n61-3"><use href="#BR" x="188"/></g><g id="n61-4"><use href="#RR" x="240"/></g><g id="n61-5"><use href="#WR" x="292"/></g><g id="n61-6"><use href="#RR" x="344"/></g><g id="n61-7"><use href="#BR" x="396"/></g><g id="n61-8"><use href="#BR" x="448"/></g><g id="n61-9"><use href="#BR" x="500"/></g></g>
<g transform="translate(0,3234)"><g id="n62-1"><use href="#BL" x="84"/></g><g id="n62-2"><use href="#BL" x="136"/></g><g id="n62-3"><use href="#BL" x="188"/></g><g id="n62-4"><use href="#RL" x="240"/></g><g id="n62-5"><use href="#BL" x="292"/></g><g id="n62-6"><use href="#BL" x="344"/></g><g id="n62-7"><use href="#BL" x="396"/></g><g id="n62-8"><use href="#BL" x="448"/></g><g id="n62-9"><use href="#BL" x="500"/></g></g>
<g transform="translate(0,3286)"><g id="n63-1"><use href="#BR" x="84"/></g><g id="n63-2"><use href="#BR" x="136"/></g><g id="n63-3"><use href="#BR" x="188"/></g><g id="n63-4"><use href="#BR" x="240"/></g><g id="n63-5"><use href="#BR" x="292"/></g><g id="n63-6"><use href="#BR" x="344"/></g><g id="n63-7"><use href="#BR" x="396"/></g><g id="n63-8"><use href="#BR" x="448"/></g><g id="n63-9"><use href="#BR" x="500"/></g></g>
<g transform="translate(0,3338)"><g id="n64-1"><use href="#BL" x="84"/></g><g id="n64-2"><use href="#BL" x="136"/></g><g id="n64-3"><use href="#BL" x="188"/></g><g id="n64-4"><use href="#BL" x="240"/></g><g id="n64-5"><use href="#BL" x="292"/></g><g id="n64-6"><use href="#BL" x="344"/></g><g id="n64-7"><use href="#BL" x="396"/></g><g id="n64-8"><use href="#BL" x="448"/></g><g id="n64-9"><use href="#BL" x="500"/></g></g>
<g transform="translate(0,3390)"><g id="n65-1"><use href="#BR" x="84"/></g><g id="n65-2"><use href="#BR" x="136"/></g><g id="n65-3"><use href="#BR" x="188"/></g><g id="n65-4"><use href="#RR" x="240"/></g><g id="n65-5"><use href="#BR" x="292"/></g><g id="n65-6"><use href="#BR" x="344"/></g><g id="n65-7"><use href="#BR" x="396"/></g><g id="n65-8"><use href="#BR" x="448"/></g><g id="n65-9"><use href="#BR" x="500"/></g></g>
<g transform="translate(0,3442)"><g id="n66-1"><use href="#BL" x="84"/></g><g id="n66-2"><use href="#BL" x="136"/></g><g id="n66-3"><use href="#BL" x="188"/></g><g id="n66-4"><use href="#RL" x="240"/></g><g id="n66-5"><use href="#WL" x="292"/></g><g id="n66-6"><use href="#RL" x="344"/></g><g id="n66-7"><use href="#BL" x="396"/></g><g id="n66-8"><use href="#BL" x="448"/></g><g id="n66-9"><use href="#BL" x="500"/></g></g>
<g transform="translate(0,3494)"><g id="n67-1"><use href="#BR" x="84"/></g><g id="n67-2"><use href="#WR" x="136"/></g><g id="n67-3"><use href="#WR" x="188"/></g><g id="n67-4"><use href="#RR" x="240"/></g><g id="n67-5"><use href="#RR" x="292"/></g><g id="n67-6"><use href="#RR" x="344"/></g><g id="n67-7"><use href="#RR" x="396"/></g><g id="n67-8"><use href="#BR" x="448"/></g><g id="n67-9"><use href="#BR" x="500"/></g></g>
<g transform="translate(0,3546)"><g id="n68-1"><use href="#BL" x="84"/></g><g id="n68-2"><use href="#WL" x="136"/></g><g id="n68-3"><use href="#WL" x="188"/></g><g id="n68-4"><use href="#RL" x="240"/></g><g id="n68-5"><use href="#WL" x="292"/></g><g id="n68-6"><use href="#RL" x="344"/></g><g id="n68-7"><use href="#WL" x="396"/></g><g id="n68-8"><use href="#RL" x="448"/></g><g id="n68-9"><use href="#BL" x="500"/></g></g>
<g transform="translate(0,3598)"><g id="n69-1"><use href="#BR" x="84"/></g><g id="n69-2"><use href="#WR" x="136"/></g><g id="n69-3"><use href="#WR" x="188"/></g><g id="n69-4"><use href="#RR" x="240"/></g><g id="n69-5"><use href="#RR" x="292"/></g><g id="n69-6"><use href="#RR" x="344"/></g><g id="n69-7"><use href="#RR" x="396"/></g><g id="n69-8"><use href="#BR" x="448"/></g><g id="n69-9"><use href="#BR" x="500"/></g></g>
<g transform="translate(0,3650)"><g id="n70-1"><use href="#BL" x="84"/></g><g id="n70-2"><use href="#BL" x="136"/></g><g id="n70-3"><use href="#BL" x="188"/></g><g id="n70-4"><use href="#RL" x="240"/></g><g id="n70-5"><use href="#WL" x="292"/></g><g id="n70-6"><use href="#RL" x="344"/></g><g id="n70-7"><use href="#BL" x="396"/></g><g id="n70-8"><use href="#BL" x="448"/></g><g id="n70-9"><use href="#BL" x="500"/></g></g>
<g transform="translate(0,3702)"><g id="n71-1"><use href="#BR" x="84"/></g><g id="n71-2"><use href="#BR" x="136"/></g><g id="n71-3"><use href="#BR" x="188"/></g><g id="n71-4"><use href="#RR" x="240"/></g><g id="n71-5"><use href="#BR" x="292"/></g><g id="n71-6"><use href="#BR" x="344"/></g><g id="n71-7"><use href="#BR" x="396"/></g><g id="n71-8"><use href="#BR" x="448"/></g><g id="n71-9"><use href="#BR" x="500"/></g></g>
<g transform="translate(0,3754)"><g id="n72-1"><use href="#BL" x="84"/></g><g id="n72-2"><use href="#BL" x="136"/></g><g id="n72-3"><use href="#BL" x="188"/></g><g id="n72-4"><use href="#BL" x="240"/></g><g id="n72-5"><use href="#BL" x="292"/></g><g id="n72-6"><use href="#BL" x="344"/></g><g id="n72-7"><use href="#BL" x="396"/></g><g id="n72-8"><use href="#BL" x="448"/></g><g id="n72-9"><use href="#BL" x="500"/></g></g>
</g>

<text id="watermark" x="292" y="1913" font-family="Liberation Sans, Arial, sans-serif" font-weight="bold" font-size="16" fill="#333" text-anchor="middle" textLength="155" lengthAdjust="spacingAndGlyphs">BRACELETBOOK.COM</text>
</svg>
